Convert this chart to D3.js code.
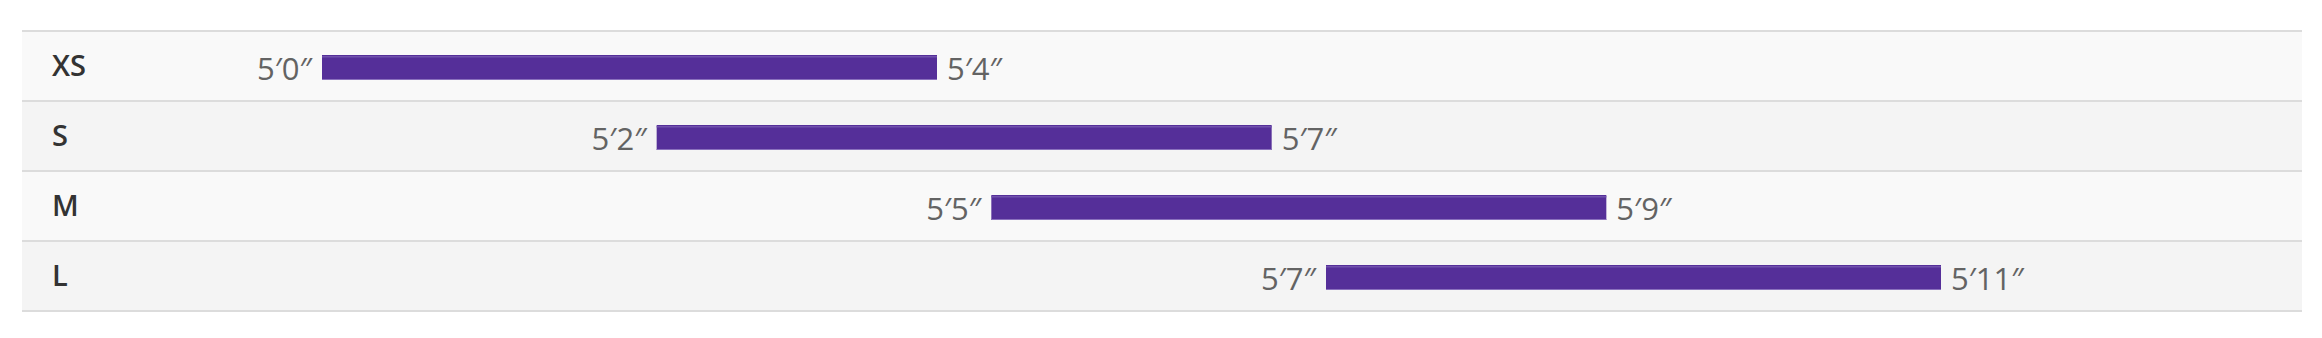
<!DOCTYPE html>
<html>
<head>
<meta charset="utf-8">
<script src="https://cdn.jsdelivr.net/npm/d3@7"></script>
<style>
  html, body { margin: 0; padding: 0; background: #ffffff; }
  svg { display: block; }
</style>
</head>
<body>
<svg id="chart" width="2322" height="338"></svg>
<script>
// ---- data ----
const sizes = ["XS", "S", "M", "L"];
const minHeightIn = [60, 62, 65, 67];
const maxHeightIn = [64, 67, 69, 71];
const minLabels = ["5′0″", "5′2″", "5′5″", "5′7″"];
const maxLabels = ["5′4″", "5′7″", "5′9″", "5′11″"];

// ---- layout ----
const tblLeft = 22, tblRight = 2302, tblTop = 30, tblBottom = 310;
const borderW = 2;
const barW = 615, barH = 25;
const rowFill = ["#f9f9f9", "#f4f4f4"];

const rows = sizes.map((s, i) => ({
  size: s, lo: minHeightIn[i], hi: maxHeightIn[i],
  loLabel: minLabels[i], hiLabel: maxLabels[i], i
}));

const svg = d3.select("#chart");

const y = d3.scaleBand().domain(sizes).range([tblTop, tblBottom]).padding(0);
// bar start position by size (bars are staggered per size, equal length)
const xStart = d3.scalePoint().domain(sizes).range([322, 1326]);

const g = svg.append("g");

// row backgrounds
g.selectAll("rect.row").data(rows).join("rect")
  .attr("class", "row")
  .attr("x", tblLeft).attr("width", tblRight - tblLeft)
  .attr("y", d => y(d.size) + borderW)
  .attr("height", y.bandwidth() - borderW)
  .attr("fill", d => rowFill[d.i % 2]);

// borders
const lines = sizes.map(s => y(s)).concat([tblBottom]);
g.selectAll("rect.border").data(lines).join("rect")
  .attr("class", "border")
  .attr("x", tblLeft).attr("width", tblRight - tblLeft)
  .attr("y", d => d).attr("height", borderW)
  .attr("fill", "#dcdcdc");

// size labels
g.selectAll("text.size").data(rows).join("text")
  .attr("class", "size")
  .attr("x", 52)
  .attr("y", d => y(d.size) + 46)
  .attr("font-family", "'Open Sans', sans-serif")
  .attr("font-weight", 600)
  .attr("font-size", 29)
  .attr("fill", "#333333")
  .text(d => d.size);

// bars
const bars = g.selectAll("g.bar").data(rows).join("g").attr("class", "bar");
bars.append("rect")
  .attr("x", d => xStart(d.size))
  .attr("y", d => y(d.size) + 25)
  .attr("width", barW).attr("height", barH)
  .attr("fill", "#552f99");
bars.append("rect")
  .attr("x", d => xStart(d.size))
  .attr("y", d => y(d.size) + 26)
  .attr("width", barW).attr("height", 1.5)
  .attr("fill", "#7152ad");
bars.append("rect")
  .attr("x", d => xStart(d.size))
  .attr("y", d => y(d.size) + 25 + barH - 1)
  .attr("width", barW).attr("height", 1)
  .attr("fill", "#8a70bd");

// value labels
g.selectAll("text.lo").data(rows).join("text")
  .attr("class", "lo")
  .attr("x", d => xStart(d.size) - 10)
  .attr("y", d => y(d.size) + 50)
  .attr("text-anchor", "end")
  .attr("font-family", "'Open Sans', sans-serif")
  .attr("font-size", 31)
  .attr("fill", "#636363")
  .text(d => d.loLabel);

g.selectAll("text.hi").data(rows).join("text")
  .attr("class", "hi")
  .attr("x", d => xStart(d.size) + barW + 10)
  .attr("y", d => y(d.size) + 50)
  .attr("text-anchor", "start")
  .attr("font-family", "'Open Sans', sans-serif")
  .attr("font-size", 31)
  .attr("fill", "#636363")
  .text(d => d.hiLabel);
</script>
</body>
</html>
